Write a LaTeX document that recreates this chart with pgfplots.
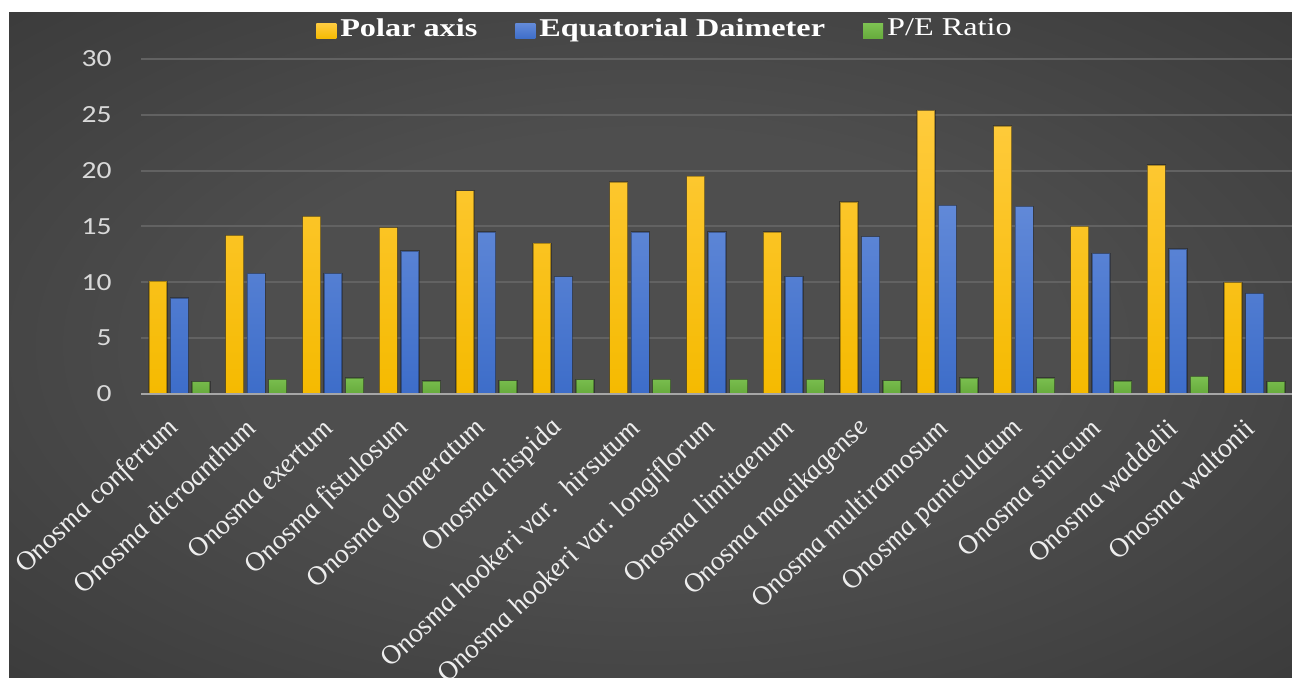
\documentclass[border=0pt]{standalone}
\usepackage{fontspec}
\setmainfont{Liberation Serif}
\newfontfamily\calib{Carlito}
\usepackage{pgfplots}
\pgfplotsset{compat=1.18}
\definecolor{bgA}{HTML}{4E4E4E}
\definecolor{bgB}{HTML}{2E2E2E}
\definecolor{bgC}{HTML}{202020}
\definecolor{gridc}{HTML}{626262}
\definecolor{axisc}{HTML}{A6A6A6}
\definecolor{tickc}{HTML}{D9D9D9}
\definecolor{labc}{HTML}{EDEDED}
\definecolor{yelT}{HTML}{FFCB3D}
\definecolor{yelB}{HTML}{F5BA00}
\definecolor{bluT}{HTML}{6189D8}
\definecolor{bluB}{HTML}{3D6DC9}
\definecolor{grnT}{HTML}{7CC151}
\definecolor{grnB}{HTML}{66AA3C}
\pgfdeclareradialshading{bgshade}{\pgfpoint{0bp}{0bp}}{color(0bp)=(bgA); color(16bp)=(bgA); color(50bp)=(bgB); color(71bp)=(bgC)}
\pgfplotsset{mylegend/.style={legend image code/.code={\path[##1, draw=none] (-1.5pt,-5pt) rectangle (8.5pt,2.5pt);}}}
\begin{document}
\begin{tikzpicture}
\shade[shading=bgshade] (4.5pt,0pt) rectangle (646pt,332.5pt);
\begin{axis}[
  at={(70.5pt,142pt)}, anchor=south west,
  scale only axis, width=576pt, height=167.5pt,
  xmin=-0.5, xmax=14.5, ymin=0, ymax=30,
  ytick={0,5,...,30}, xtick={0,...,14},
  xticklabels={Onosma confertum, Onosma dicroanthum, Onosma exertum, Onosma fistulosum, Onosma glomeratum, Onosma hispida, {Onosma hookeri var.~ hirsutum}, Onosma hookeri var. longiflorum, Onosma limitaenum, Onosma maaikagense, Onosma multiramosum, Onosma paniculatum, Onosma sinicum, Onosma waddelii, Onosma waltonii},
  axis line style={draw=none},
  major tick length=0pt,
  ymajorgrids, grid style={color=gridc, line width=1pt},
  ybar=1.75pt, bar width=9pt,
  yticklabel={\scalebox{1.2}[1]{\pgfmathprintnumber[assume math mode=true]{\tick}}},
  yticklabel style={font=\calib\fontsize{12.3}{12}\selectfont, text=tickc, inner sep=0pt, anchor=east, xshift=-14.5pt},
  xticklabel style={font=\itshape\fontsize{12.8}{13}\selectfont, text=labc, inner sep=0pt, anchor=east, xshift=-2.5pt, yshift=-15pt, cm={0.783,0.743,-0.869,0.669,(0,0)}},
  legend style={at={(0.4557,1.0896)}, anchor=center, draw=none, fill=none, text=white, font=\fontsize{12.8}{14}\selectfont, /tikz/every even column/.append style={column sep=17pt}},
  legend columns=3,
  clip=false,
]
\addplot[draw=black, draw opacity=0.3, line width=0.7pt, top color=yelT, bottom color=yelB, mylegend] coordinates {(0,10.1) (1,14.2) (2,15.9) (3,14.9) (4,18.2) (5,13.5) (6,19.0) (7,19.5) (8,14.5) (9,17.2) (10,25.4) (11,24.0) (12,15.0) (13,20.5) (14,10.0)};
\addlegendentry{\scalebox{1.26}[1]{\textbf{Polar axis}}}
\addplot[draw=black, draw opacity=0.3, line width=0.7pt, top color=bluT, bottom color=bluB, mylegend] coordinates {(0,8.6) (1,10.8) (2,10.8) (3,12.8) (4,14.5) (5,10.5) (6,14.5) (7,14.5) (8,10.5) (9,14.1) (10,16.9) (11,16.8) (12,12.6) (13,13.0) (14,9.0)};
\addlegendentry{\scalebox{1.26}[1]{\textbf{Equatorial Daimeter}}}
\addplot[draw=black, draw opacity=0.3, line width=0.7pt, top color=grnT, bottom color=grnB, mylegend] coordinates {(0,1.1) (1,1.3) (2,1.45) (3,1.16) (4,1.2) (5,1.28) (6,1.3) (7,1.3) (8,1.3) (9,1.2) (10,1.45) (11,1.43) (12,1.18) (13,1.57) (14,1.1)};
\addlegendentry{\scalebox{1.26}[1]{P/E Ratio}}
\draw[color=axisc, line width=1pt] (axis cs:-0.5,0) -- (axis cs:14.5,0);
\end{axis}
\pgfresetboundingbox
\path (0pt,0pt) rectangle (646pt,339pt);
\end{tikzpicture}
\end{document}
